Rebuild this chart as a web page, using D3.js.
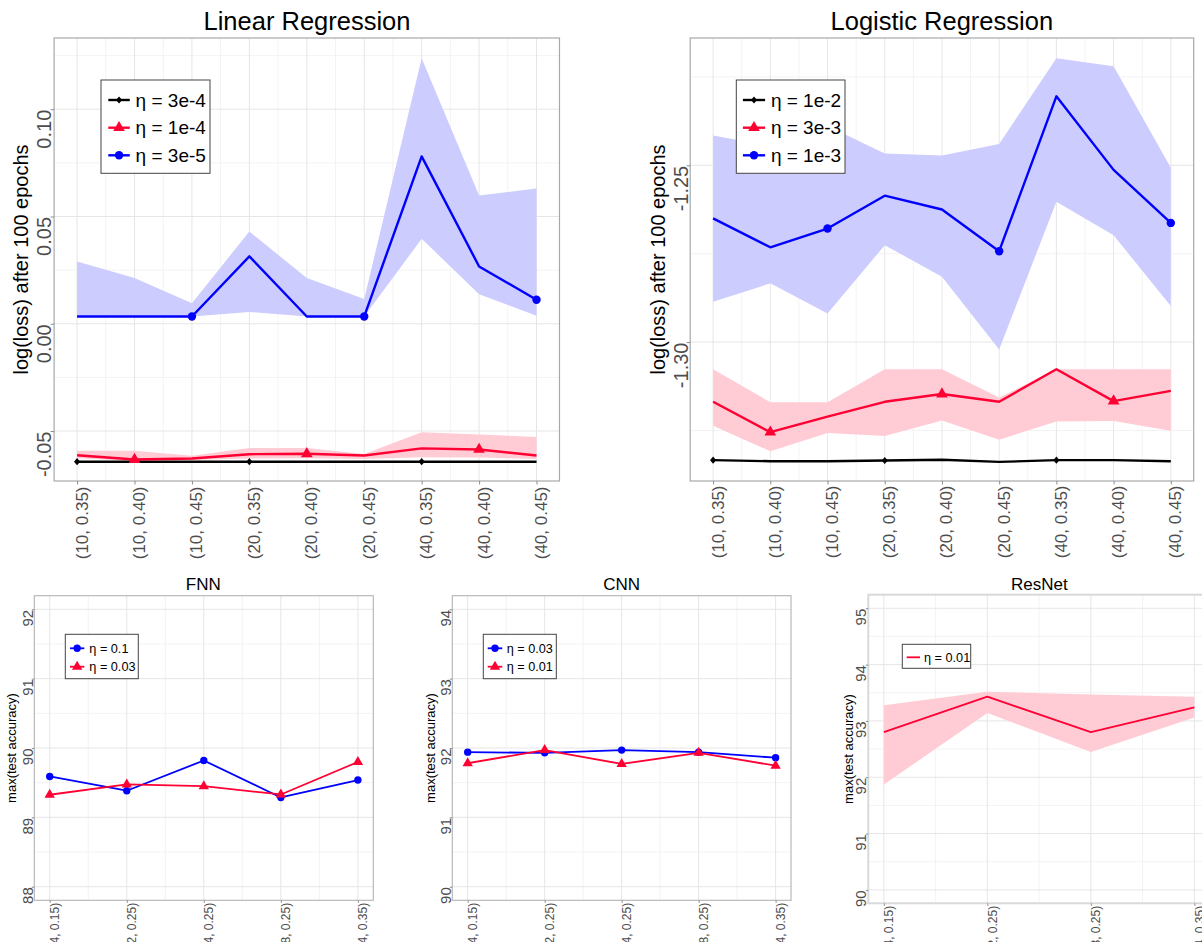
<!DOCTYPE html>
<html>
<head>
<meta charset="utf-8">
<script src="https://cdn.jsdelivr.net/npm/d3@7"></script>
<style>
  html, body { margin: 0; padding: 0; background: #fff; }
  svg { display: block; font-family: "Liberation Sans", Arial, Helvetica, sans-serif; }
</style>
</head>
<body>
<svg id="fig" width="1202" height="942"></svg>
<script>
// ---------------- data ----------------
const regCategories = ["(10, 0.35)", "(10, 0.40)", "(10, 0.45)", "(20, 0.35)", "(20, 0.40)",
                       "(20, 0.45)", "(40, 0.35)", "(40, 0.40)", "(40, 0.45)"];

// Linear regression: log(loss) after 100 epochs
const linEta3e4   = [-0.0643, -0.0643, -0.0643, -0.0643, -0.0643, -0.0643, -0.0643, -0.0643, -0.0643];
const linEta1e4   = [-0.0613, -0.0633, -0.0628, -0.0608, -0.0606, -0.0614, -0.0581, -0.0586, -0.0614];
const linEta1e4Lo = [-0.0627, -0.0640, -0.0635, -0.0628, -0.0627, -0.0630, -0.0622, -0.0624, -0.0630];
const linEta1e4Hi = [-0.0592, -0.0592, -0.0615, -0.0579, -0.0579, -0.0607, -0.0506, -0.0516, -0.0528];
const linEta3e5   = [0.0034, 0.0034, 0.0034, 0.0314, 0.0034, 0.0034, 0.0780, 0.0267, 0.0112];
const linEta3e5Lo = [0.0034, 0.0034, 0.0034, 0.0055, 0.0034, 0.0034, 0.0396, 0.0138, 0.0037];
const linEta3e5Hi = [0.0290, 0.0213, 0.0096, 0.0430, 0.0213, 0.0115, 0.1238, 0.0598, 0.0630];
const linYTicks = [-0.05, 0, 0.05, 0.10];
const linYTickLabels = ["-0.05", "0.00", "0.05", "0.10"];
const linYMinor = [-0.025, 0.025, 0.075, 0.125];

// Logistic regression: log(loss) after 100 epochs
const logEta1e2   = [-1.3334, -1.3337, -1.3337, -1.3335, -1.3333, -1.3339, -1.3334, -1.3334, -1.3337];
const logEta3e3   = [-1.3169, -1.3255, -1.3211, -1.3169, -1.3147, -1.3169, -1.3077, -1.3167, -1.3138];
const logEta3e3Lo = [-1.3237, -1.3309, -1.3257, -1.3266, -1.3222, -1.3276, -1.3225, -1.3223, -1.3251];
const logEta3e3Hi = [-1.3077, -1.3170, -1.3170, -1.3077, -1.3077, -1.3157, -1.3077, -1.3077, -1.3077];
const logEta1e3   = [-1.2650, -1.2732, -1.2679, -1.2586, -1.2625, -1.2743, -1.2305, -1.2513, -1.2663];
const logEta1e3Lo = [-1.2886, -1.2834, -1.2919, -1.2726, -1.2815, -1.3021, -1.2603, -1.2698, -1.2898];
const logEta1e3Hi = [-1.2416, -1.2445, -1.2389, -1.2467, -1.2472, -1.2440, -1.2197, -1.2220, -1.2507];
const logYTicks = [-1.30, -1.25];
const logYTickLabels = ["-1.30", "-1.25"];
const logYMinor = [-1.325, -1.275, -1.225];

// Networks: max(test accuracy)
const fnnCategories = ["(4, 0.15)", "(2, 0.25)", "(4, 0.25)", "(8, 0.25)", "(4, 0.35)"];
const fnnEta01  = [89.59, 89.384, 89.82, 89.287, 89.538];
const fnnEta003 = [89.326, 89.475, 89.45, 89.33, 89.798];
const fnnYTicks = [88, 89, 90, 91, 92];
const fnnYTickLabels = ["88", "89", "90", "91", "92"];
const fnnYMinor = [88.5, 89.5, 90.5, 91.5];

const cnnCategories = ["(4, 0.15)", "(2, 0.25)", "(4, 0.25)", "(8, 0.25)", "(4, 0.35)"];
const cnnEta003 = [91.94, 91.93, 91.97, 91.94, 91.86];
const cnnEta001 = [91.78, 91.97, 91.77, 91.93, 91.745];
const cnnYTicks = [90, 91, 92, 93, 94];
const cnnYTickLabels = ["90", "91", "92", "93", "94"];
const cnnYMinor = [90.5, 91.5, 92.5, 93.5];

const resCategories = ["(4, 0.15)", "(2, 0.25)", "(8, 0.25)", "(4, 0.35)"];
const resEta001   = [92.80, 93.43, 92.80, 93.24];
const resEta001Lo = [91.87, 93.14, 92.45, 93.06];
const resEta001Hi = [93.28, 93.52, 93.47, 93.43];
const resYTicks = [90, 91, 92, 93, 94, 95];
const resYTickLabels = ["90", "91", "92", "93", "94", "95"];
const resYMinor = [90.5, 91.5, 92.5, 93.5, 94.5];

// ---------------- styling ----------------
const BLACK = "#000000", RED = "#ff0033", BLUE = "#0000ff";
const RED_FILL = "#ffccd6", BLUE_FILL = "#ccccff";

const svg = d3.select("#fig");
const defs = svg.append("defs");

function markerPath(type, s) {
  if (type === "diamond") return `M0,${-s}L${s * 0.85},0L0,${s}L${-s * 0.85},0Z`;
  if (type === "triangle") return d3.symbol(d3.symbolTriangle, s * s * 2.2)();
  return d3.symbol(d3.symbolCircle, Math.PI * s * s)();
}

function drawPanel(cfg) {
  const g = svg.append("g");
  const x = d3.scalePoint().domain(cfg.categories).range([cfg.left, cfg.right]).padding(cfg.pad);
  const y = d3.scaleLinear().domain(cfg.yDomain).range([cfg.bottom, cfg.top]);

  defs.append("clipPath").attr("id", "clip-" + cfg.id)
    .append("rect").attr("x", cfg.left).attr("y", cfg.top)
    .attr("width", cfg.right - cfg.left).attr("height", cfg.bottom - cfg.top);

  const grid = g.append("g");
  const cats = cfg.categories;
  const mids = cats.slice(1).map((c, i) => (x(cats[i]) + x(c)) / 2);
  // minor grid
  grid.selectAll(".vmin").data(mids).join("line")
    .attr("x1", d => d).attr("x2", d => d).attr("y1", cfg.top).attr("y2", cfg.bottom)
    .attr("stroke", "#f3f3f3").attr("stroke-width", 1);
  grid.selectAll(".hmin").data(cfg.yMinor).join("line")
    .attr("x1", cfg.left).attr("x2", cfg.right).attr("y1", d => y(d)).attr("y2", d => y(d))
    .attr("stroke", "#f3f3f3").attr("stroke-width", 1);
  // major grid
  grid.selectAll(".vmaj").data(cats).join("line")
    .attr("x1", d => x(d)).attr("x2", d => x(d)).attr("y1", cfg.top).attr("y2", cfg.bottom)
    .attr("stroke", "#e6e6e6").attr("stroke-width", 1);
  grid.selectAll(".hmaj").data(cfg.yTicks).join("line")
    .attr("x1", cfg.left).attr("x2", cfg.right).attr("y1", d => y(d)).attr("y2", d => y(d))
    .attr("stroke", "#e6e6e6").attr("stroke-width", 1);

  const plot = g.append("g").attr("clip-path", `url(#clip-${cfg.id})`);

  // shaded bands
  cfg.series.filter(s => s.lo).forEach(s => {
    const area = d3.area()
      .x((d, i) => x(cats[i]))
      .y0((d, i) => y(s.lo[i]))
      .y1((d, i) => y(s.hi[i]));
    plot.append("path").datum(s.values).attr("d", area).attr("fill", s.fill).attr("stroke", "none");
  });

  // lines and markers
  cfg.series.forEach(s => {
    const line = d3.line().x((d, i) => x(cats[i])).y(d => y(d));
    plot.append("path").datum(s.values).attr("d", line)
      .attr("fill", "none").attr("stroke", s.color).attr("stroke-width", cfg.lineWidth)
      .attr("stroke-linejoin", "round");
    if (s.marker) {
      const pts = s.values.map((v, i) => ({ v, i }))
        .filter(p => cfg.markerStep ? (p.i % cfg.markerStep === s.markerOffset) : true);
      plot.selectAll(null).data(pts).join("path")
        .attr("d", markerPath(s.marker, s.markerSize))
        .attr("transform", p => `translate(${x(cats[p.i])},${y(p.v)})`)
        .attr("fill", s.color);
    }
  });

  // panel border
  g.append("rect").attr("x", cfg.left).attr("y", cfg.top)
    .attr("width", cfg.right - cfg.left).attr("height", cfg.bottom - cfg.top)
    .attr("fill", "none").attr("stroke", cfg.borderColor).attr("stroke-width", cfg.borderWidth);

  // y axis
  const yAxis = d3.axisLeft(y).tickValues(cfg.yTicks)
    .tickFormat((d, i) => cfg.yTickLabels[i]).tickSize(cfg.tickLen);
  const ya = g.append("g").attr("transform", `translate(${cfg.left},0)`).call(yAxis);
  ya.select(".domain").remove();
  ya.selectAll(".tick line").attr("stroke", "#8c8c8c");
  ya.selectAll(".tick text")
    .attr("x", null).attr("dy", null).attr("y", null)
    .attr("transform", `translate(${cfg.yLabelBase},0) rotate(-90)`)
    .attr("text-anchor", "end")
    .attr("font-size", cfg.yTickSize).attr("fill", "#4d4d4d")
    .attr("font-family", "Liberation Sans, Arial, sans-serif");

  // x axis
  const xAxis = d3.axisBottom(x).tickSize(cfg.tickLen);
  const xa = g.append("g").attr("transform", `translate(0,${cfg.bottom})`).call(xAxis);
  xa.select(".domain").remove();
  xa.selectAll(".tick line").attr("stroke", "#8c8c8c");
  xa.selectAll(".tick text")
    .attr("x", null).attr("dy", null).attr("y", null)
    .attr("transform", `translate(${cfg.xLabelShift},${cfg.xLabelGap}) rotate(-90)`)
    .attr("text-anchor", "end")
    .attr("font-size", cfg.xTickSize).attr("fill", "#4d4d4d")
    .attr("font-family", "Liberation Sans, Arial, sans-serif");

  // titles
  g.append("text").attr("x", cfg.titleX).attr("y", cfg.titleY)
    .attr("text-anchor", "middle").attr("font-size", cfg.titleSize).attr("fill", "#000")
    .text(cfg.title);
  g.append("text")
    .attr("transform", `translate(${cfg.yTitleX},${(cfg.top + cfg.bottom) / 2}) rotate(-90)`)
    .attr("text-anchor", "middle").attr("font-size", cfg.yTitleSize).attr("fill", "#000")
    .text(cfg.yTitle);

  // legend
  const L = cfg.legend;
  const lg = g.append("g");
  lg.append("rect").attr("x", L.x0).attr("y", L.y0).attr("width", L.x1 - L.x0).attr("height", L.y1 - L.y0)
    .attr("fill", "#fff").attr("stroke", "#444").attr("stroke-width", 1);
  cfg.series.forEach((s, k) => {
    const ey = L.rows[k];
    lg.append("line").attr("x1", L.keyX0).attr("x2", L.keyX1).attr("y1", ey).attr("y2", ey)
      .attr("stroke", s.color).attr("stroke-width", cfg.lineWidth);
    if (s.marker) {
      lg.append("path").attr("d", markerPath(s.marker, s.markerSize))
        .attr("transform", `translate(${(L.keyX0 + L.keyX1) / 2},${ey})`).attr("fill", s.color);
    }
    lg.append("text").attr("x", L.textX).attr("y", ey).attr("dy", "0.35em")
      .attr("font-size", L.fontSize).attr("fill", "#000").text(s.label);
  });
}

// ---------------- panels ----------------
drawPanel({
  id: "lin", title: "Linear Regression", yTitle: "log(loss) after 100 epochs",
  categories: regCategories, left: 54.1, right: 559.5, top: 38, bottom: 481, pad: 0.4,
  yDomain: [-0.0733, 0.1332], yTicks: linYTicks, yTickLabels: linYTickLabels, yMinor: linYMinor,
  lineWidth: 2.4, markerStep: 3, tickLen: 3.5, borderColor: "#a8a8a8", borderWidth: 1.2,
  yLabelBase: -3.5, yTickSize: 20, xLabelShift: 10, xLabelGap: 5.5, xTickSize: 17,
  titleX: 307, titleY: 29.5, titleSize: 25.5, yTitleX: 28, yTitleSize: 20,
  series: [
    { label: "η = 3e-4", values: linEta3e4, color: BLACK, marker: "diamond", markerSize: 3.6, markerOffset: 0 },
    { label: "η = 1e-4", values: linEta1e4, lo: linEta1e4Lo, hi: linEta1e4Hi, color: RED, fill: RED_FILL, marker: "triangle", markerSize: 5.2, markerOffset: 1 },
    { label: "η = 3e-5", values: linEta3e5, lo: linEta3e5Lo, hi: linEta3e5Hi, color: BLUE, fill: BLUE_FILL, marker: "circle", markerSize: 4.2, markerOffset: 2 }
  ],
  legend: { x0: 101, x1: 210, y0: 80, y1: 173.3, rows: [100, 127.7, 155.3], keyX0: 108.3, keyX1: 129.8, textX: 135.6, fontSize: 19 }
});

drawPanel({
  id: "log", title: "Logistic Regression", yTitle: "log(loss) after 100 epochs",
  categories: regCategories, left: 690.2, right: 1193.7, top: 38, bottom: 481, pad: 0.4,
  yDomain: [-1.3393, -1.2140], yTicks: logYTicks, yTickLabels: logYTickLabels, yMinor: logYMinor,
  lineWidth: 2.4, markerStep: 3, tickLen: 3.5, borderColor: "#a8a8a8", borderWidth: 1.2,
  yLabelBase: -2.6, yTickSize: 20, xLabelShift: 10, xLabelGap: 4.5, xTickSize: 17,
  titleX: 941.8, titleY: 29.5, titleSize: 25.5, yTitleX: 664.5, yTitleSize: 20,
  series: [
    { label: "η = 1e-2", values: logEta1e2, color: BLACK, marker: "diamond", markerSize: 3.6, markerOffset: 0 },
    { label: "η = 3e-3", values: logEta3e3, lo: logEta3e3Lo, hi: logEta3e3Hi, color: RED, fill: RED_FILL, marker: "triangle", markerSize: 5.2, markerOffset: 1 },
    { label: "η = 1e-3", values: logEta1e3, lo: logEta1e3Lo, hi: logEta1e3Hi, color: BLUE, fill: BLUE_FILL, marker: "circle", markerSize: 4.2, markerOffset: 2 }
  ],
  legend: { x0: 736.3, x1: 845, y0: 80, y1: 173.3, rows: [100, 127.7, 155.3], keyX0: 742.9, keyX1: 765.1, textX: 770.9, fontSize: 19 }
});

drawPanel({
  id: "fnn", title: "FNN", yTitle: "max(test accuracy)",
  categories: fnnCategories, left: 34.3, right: 373.3, top: 595.7, bottom: 900.3, pad: 0.2,
  yDomain: [87.804, 92.196], yTicks: fnnYTicks, yTickLabels: fnnYTickLabels, yMinor: fnnYMinor,
  lineWidth: 1.8, markerStep: 0, tickLen: 2.5, borderColor: "#b3b3b3", borderWidth: 1.1,
  yLabelBase: -1.2, yTickSize: 15, xLabelShift: 9, xLabelGap: 2.5, xTickSize: 12,
  titleX: 203.3, titleY: 590, titleSize: 17, yTitleX: 16.2, yTitleSize: 13,
  series: [
    { label: "η = 0.1", values: fnnEta01, color: BLUE, marker: "circle", markerSize: 3.7 },
    { label: "η = 0.03", values: fnnEta003, color: RED, marker: "triangle", markerSize: 4.6 }
  ],
  legend: { x0: 65.3, x1: 138.3, y0: 634.3, y1: 678.7, rows: [648.3, 666.7], keyX0: 70, keyX1: 84.3, textX: 89.3, fontSize: 12.7 }
});

drawPanel({
  id: "cnn", title: "CNN", yTitle: "max(test accuracy)",
  categories: cnnCategories, left: 452.3, right: 791, top: 595.7, bottom: 900.3, pad: 0.2,
  yDomain: [89.804, 94.196], yTicks: cnnYTicks, yTickLabels: cnnYTickLabels, yMinor: cnnYMinor,
  lineWidth: 1.8, markerStep: 0, tickLen: 2.5, borderColor: "#b3b3b3", borderWidth: 1.1,
  yLabelBase: -1.6, yTickSize: 15, xLabelShift: 9, xLabelGap: 2.5, xTickSize: 12,
  titleX: 621.7, titleY: 590, titleSize: 17, yTitleX: 434.5, yTitleSize: 13,
  series: [
    { label: "η = 0.03", values: cnnEta003, color: BLUE, marker: "circle", markerSize: 3.7 },
    { label: "η = 0.01", values: cnnEta001, color: RED, marker: "triangle", markerSize: 4.6 }
  ],
  legend: { x0: 483.3, x1: 556.3, y0: 634.3, y1: 678.7, rows: [648.3, 666.7], keyX0: 487.7, keyX1: 502.3, textX: 506.7, fontSize: 12.7 }
});

drawPanel({
  id: "res", title: "ResNet", yTitle: "max(test accuracy)",
  categories: resCategories, left: 868.3, right: 1209.9, top: 594.7, bottom: 903.3, pad: 0.15,
  yDomain: [89.762, 95.241], yTicks: resYTicks, yTickLabels: resYTickLabels, yMinor: resYMinor,
  lineWidth: 1.8, markerStep: 0, tickLen: 2.5, borderColor: "#d9d9d9", borderWidth: 2,
  yLabelBase: -2.3, yTickSize: 15, xLabelShift: 9, xLabelGap: 2.5, xTickSize: 12,
  titleX: 1039.3, titleY: 590, titleSize: 17, yTitleX: 852.8, yTitleSize: 13,
  series: [
    { label: "η = 0.01", values: resEta001, lo: resEta001Lo, hi: resEta001Hi, color: RED, fill: RED_FILL }
  ],
  legend: { x0: 902.3, x1: 970.7, y0: 644.3, y1: 668.3, rows: [657.3], keyX0: 906.7, keyX1: 920, textX: 924, fontSize: 12.7 }
});
</script>
</body>
</html>
